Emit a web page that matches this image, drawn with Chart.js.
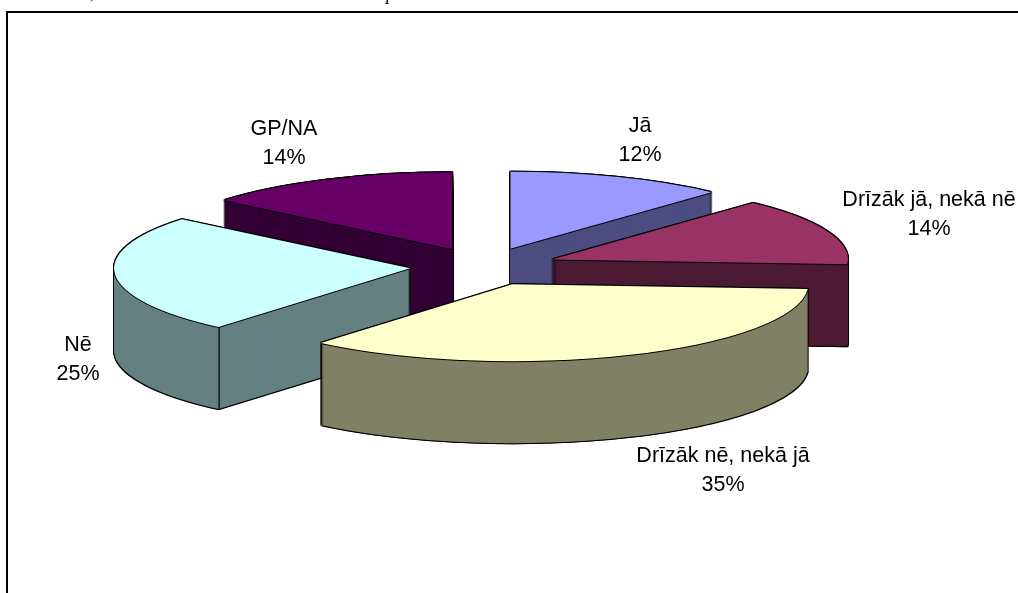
<!DOCTYPE html>
<html>
<head>
<meta charset="utf-8">
<style>
  html, body { margin: 0; padding: 0; background: #fff; overflow: hidden; }
  canvas { display: block; }
</style>
<script src="https://cdn.jsdelivr.net/npm/chart.js@4/dist/chart.umd.min.js"></script>
</head>
<body>
<canvas id="chart" width="1018" height="593"></canvas>
<script>
const categories = ["Jā", "Drīzāk jā, nekā nē", "Drīzāk nē, nekā jā", "Nē", "GP/NA"];
// the labels show them rounded
const shares = [11.9, 14.1, 35.2, 24.8, 14];
const topColors = ["#9999FF", "#993366", "#FFFFCC", "#CCFFFF", "#660066"];
const wallColors = ["#4D4D80", "#4D1A33", "#808066", "#668080", "#330033"];
// back slices first, front slice last
const drawOrder = [4, 0, 1, 3, 2];
const labelCenters = [[640, 141], [929, 215], [723, 471], [78, 360], [284, 144]];

const pieX = 483.5;
const pieY = 266.6;
const tilt = 0.26;
const depth = 82;
const explode = 73.7;

// flat pie squashed onto the ellipse, arcs come from the doughnut controller
// the arc's own offset option changes its radius and angles, so the slice is moved here
const paint = (ctx, arc, color, dx, dy) => {
  const saved = arc.options;
  const mid = (arc.startAngle + arc.endAngle) / 2;
  arc.options = Object.create(saved, { backgroundColor: { value: color } });
  ctx.save();
  ctx.translate(pieX + dx, pieY + dy);
  ctx.scale(1, tilt);
  ctx.translate(Math.cos(mid) * explode - arc.x, Math.sin(mid) * explode - arc.y);
  arc.draw(ctx);
  ctx.restore();
  arc.options = saved;
};

const drawSlice = (ctx, arc, i) => {
  // outline of the whole extruded block
  for (let d = -1; d <= depth + 1; d++) {
    paint(ctx, arc, "#000", -1, d);
    paint(ctx, arc, "#000", 1, d);
  }
  for (let d = depth; d >= 1; d--) {
    paint(ctx, arc, wallColors[i], 0, d);
  }

  // edge between two visible walls
  const mid = (arc.startAngle + arc.endAngle) / 2;
  const apexY = pieY + tilt * Math.sin(mid) * explode;
  [arc.startAngle, arc.endAngle].forEach((a) => {
    const x = pieX + Math.cos(a) * arc.outerRadius + Math.cos(mid) * explode;
    const y = apexY + tilt * Math.sin(a) * arc.outerRadius;
    if (y > apexY + 20) {
      ctx.fillStyle = "#000";
      ctx.fillRect(Math.round(x) - 0.5, y, 1.2, depth);
    }
  });

  paint(ctx, arc, "#000", 0, -1);
  paint(ctx, arc, "#000", 0, 1);
  paint(ctx, arc, "#000", -1, 0);
  paint(ctx, arc, "#000", 1, 0);
  paint(ctx, arc, topColors[i], 0, 0);
};

const tiltedPie = {
  id: "tiltedPie",
  beforeDraw(chart) {
    const ctx = chart.ctx;
    ctx.save();
    ctx.fillStyle = "#fff";
    ctx.fillRect(0, 0, chart.width, chart.height);
    // frame of the chart object, runs off the right and bottom of the page
    ctx.fillStyle = "#000";
    ctx.fillRect(6, 11, chart.width - 6, 2);
    ctx.fillRect(6, 11, 2, chart.height - 11);
    // bottom of the text line above the chart, cut by the page
    ctx.font = "italic 20px 'Liberation Serif'";
    ctx.fillStyle = "#111";
    ctx.fillText(",", 90, -2);
    ctx.fillText("p", 386, -1);
    ctx.restore();
  },
  beforeDatasetsDraw(chart) {
    const arcs = chart.getDatasetMeta(0).data;
    drawOrder.forEach((i) => drawSlice(chart.ctx, arcs[i], i));
    return false;
  },
  afterDraw(chart) {
    const ctx = chart.ctx;
    ctx.save();
    ctx.font = "21.5px 'Liberation Sans'";
    ctx.fillStyle = "#000";
    ctx.textAlign = "center";
    ctx.textBaseline = "middle";
    categories.forEach((name, i) => {
      const [x, y] = labelCenters[i];
      ctx.fillText(name, x, y - 14.5);
      ctx.fillText(`${Math.round(shares[i])}%`, x, y + 14.5);
    });
    ctx.restore();
  },
};

new Chart(document.querySelector("#chart"), {
  type: "pie",
  data: {
    labels: categories,
    datasets: [
      {
        data: shares,
        backgroundColor: topColors,
        borderWidth: 0,
      },
    ],
  },
  options: {
    responsive: false,
    animation: false,
    radius: 296,
    plugins: {
      legend: { display: false },
      tooltip: { enabled: false },
    },
  },
  plugins: [tiltedPie],
});
</script>
</body>
</html>
